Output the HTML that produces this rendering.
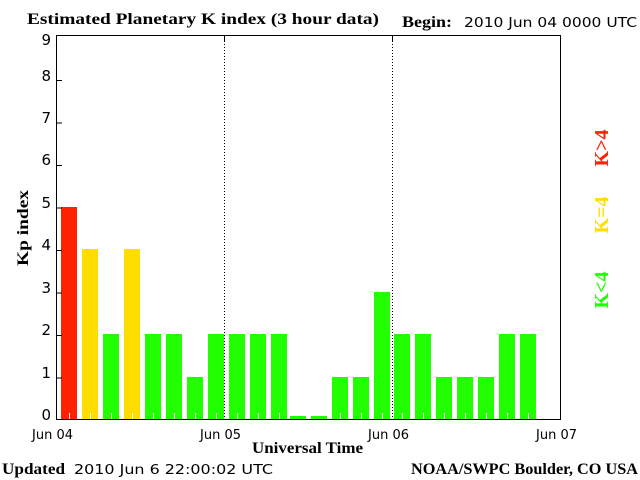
<!DOCTYPE html>
<html><head><style>body{margin:0;background:#fff}svg{display:block}</style></head><body>
<svg width="640" height="480" xmlns="http://www.w3.org/2000/svg">
<rect width="640" height="480" fill="#fff"/>
<g font-family="Liberation Serif, serif" font-weight="bold" font-size="16">
<text x="27" y="24" textLength="352" lengthAdjust="spacingAndGlyphs">Estimated Planetary K index (3 hour data)</text>
<text x="402" y="27" textLength="50" lengthAdjust="spacingAndGlyphs">Begin:</text>
<text x="252" y="453" textLength="111" lengthAdjust="spacingAndGlyphs">Universal Time</text>
<text x="2" y="474" textLength="63" lengthAdjust="spacingAndGlyphs">Updated</text>
<text x="411" y="474" textLength="227" lengthAdjust="spacingAndGlyphs">NOAA/SWPC Boulder, CO USA</text>
<text transform="translate(28,228) rotate(-90)" text-anchor="middle" textLength="76" lengthAdjust="spacingAndGlyphs">Kp index</text>
</g>
<g font-family="DejaVu Sans, sans-serif" font-size="13">
<text x="464" y="27" textLength="173" lengthAdjust="spacingAndGlyphs">2010 Jun 04 0000 UTC</text>
<text x="74" y="474" textLength="199" lengthAdjust="spacingAndGlyphs">2010 Jun  6 22:00:02 UTC</text>
<text x="32" y="439">Jun 04</text><text x="200" y="439">Jun 05</text>
<text x="368" y="439">Jun 06</text><text x="536" y="439">Jun 07</text>
</g>
<g font-family="DejaVu Sans, sans-serif" font-size="15" text-anchor="end">
<text x="51" y="420">0</text><text x="51" y="378">1</text><text x="51" y="335">2</text>
<text x="51" y="293">3</text><text x="51" y="250">4</text><text x="51" y="208">5</text>
<text x="51" y="165">6</text><text x="51" y="123">7</text><text x="51" y="81">8</text><text x="51" y="45">9</text>
</g>
<g id="bars">
<rect x="61" y="207" width="16" height="212" fill="#ff2200"/>
<rect x="82" y="249" width="16" height="170" fill="#ffdd00"/>
<rect x="103" y="334" width="16" height="85" fill="#22ff00"/>
<rect x="124" y="249" width="16" height="170" fill="#ffdd00"/>
<rect x="145" y="334" width="16" height="85" fill="#22ff00"/>
<rect x="166" y="334" width="16" height="85" fill="#22ff00"/>
<rect x="187" y="377" width="16" height="42" fill="#22ff00"/>
<rect x="208" y="334" width="16" height="85" fill="#22ff00"/>
<rect x="229" y="334" width="16" height="85" fill="#22ff00"/>
<rect x="250" y="334" width="16" height="85" fill="#22ff00"/>
<rect x="271" y="334" width="16" height="85" fill="#22ff00"/>
<rect x="290" y="416" width="16" height="3" fill="#22ff00"/>
<rect x="311" y="416" width="16" height="3" fill="#22ff00"/>
<rect x="332" y="377" width="16" height="42" fill="#22ff00"/>
<rect x="353" y="377" width="16" height="42" fill="#22ff00"/>
<rect x="374" y="292" width="16" height="127" fill="#22ff00"/>
<rect x="394" y="334" width="16" height="85" fill="#22ff00"/>
<rect x="415" y="334" width="16" height="85" fill="#22ff00"/>
<rect x="436" y="377" width="16" height="42" fill="#22ff00"/>
<rect x="457" y="377" width="16" height="42" fill="#22ff00"/>
<rect x="478" y="377" width="16" height="42" fill="#22ff00"/>
<rect x="499" y="334" width="16" height="85" fill="#22ff00"/>
<rect x="520" y="334" width="16" height="85" fill="#22ff00"/>
</g>
<g stroke="#fff" stroke-width="1">
<path d="M69.5 413v6M90.5 413v6M111.5 413v6M132.5 413v6M153.5 413v6M174.5 413v6M195.5 413v6M216.5 413v6M237.5 413v6M258.5 413v6M279.5 413v6M340.5 413v6M361.5 413v6M382.5 413v6M402.5 413v6M423.5 413v6M444.5 413v6M465.5 413v6M486.5 413v6M507.5 413v6M528.5 413v6"/>
</g>
<g stroke="#000" stroke-width="1">
<line x1="224.5" y1="35" x2="224.5" y2="419" stroke-dasharray="1,2"/>
<line x1="392.5" y1="35" x2="392.5" y2="419" stroke-dasharray="1,2"/>
<rect x="56.5" y="35.5" width="504" height="384" fill="none"/>
<path d="M56 80.5h6M56 123h6M56 165.5h6M56 208h6M56 250.5h6M56 293h6M56 335.5h6M56 378h6"/>
<path d="M224.5 35v6M392.5 35v6"/>
</g>
<g font-family="Liberation Serif, serif" font-weight="bold" font-size="20" text-anchor="middle">
<text transform="translate(608,148) rotate(-90)" fill="#ff2200">K&gt;4</text>
<text transform="translate(608,215) rotate(-90)" fill="#ffdd00">K=4</text>
<text transform="translate(608,290) rotate(-90)" fill="#22ff00">K&lt;4</text>
</g>
</svg>
</body></html>
